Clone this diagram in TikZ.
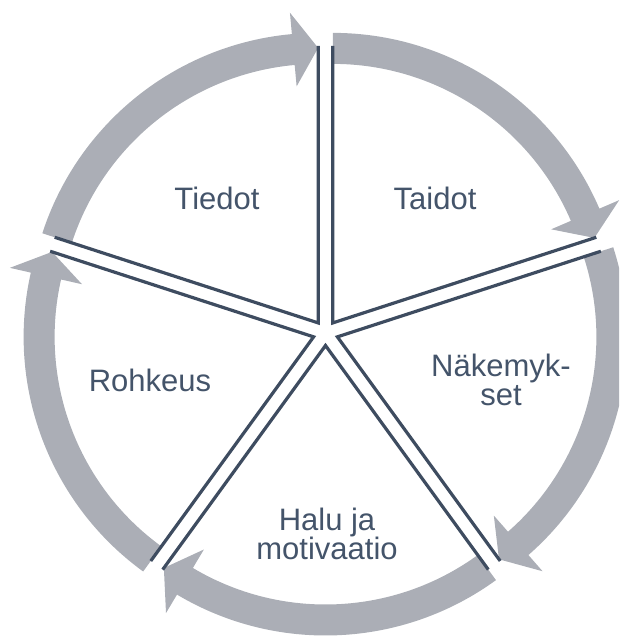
\documentclass[tikz,border=0pt]{standalone}
\usepackage{fontspec}
\setmainfont{Liberation Sans}
\definecolor{bandgrey}{HTML}{ABAEB6}
\definecolor{wedgeline}{HTML}{3E4C60}
\definecolor{labeltext}{HTML}{44546A}
\tikzset{
  band/.style={fill=bandgrey},
  wedge/.style={draw=wedgeline,line width=3.2pt,line join=miter,line cap=butt},
  lbl/.style={text=labeltext,inner sep=0pt,align=center,font=\fontsize{31pt}{29pt}\selectfont}
}
\begin{document}
\begin{tikzpicture}[x=1pt,y=1pt]
\useasboundingbox (-325.5pt,-303pt) rectangle (293.5pt,333pt);
\clip (-325.5pt,-303pt) rectangle (293.5pt,333pt);
\foreach \p in {54,-18,-90,-162,126}{
  \begin{scope}[shift={(\p:12.5pt)}]
    \fill[band] (\p+36:290pt) arc[start angle=\p+36, end angle=\p-36+5.2, radius=290pt]
      -- (\p-36+5.2:311.5pt) -- (\p-36:275pt) -- (\p-36+5.2:237.5pt)
      -- (\p-36+5.2:259pt) arc[start angle=\p-36+5.2, end angle=\p+36, radius=259pt] -- cycle;
  \end{scope}
}
\foreach \p in {54,-18,-90,-162,126}{
  \begin{scope}[shift={(\p:12.5pt)}]
    \draw[wedge] (\p+36:277pt) -- (0,0) -- (\p-36:277pt);
  \end{scope}
}
\node[lbl,anchor=base] (tiedot) at (-108.5pt,123pt) {Tiedot};
\node[lbl,anchor=base] (taidot) at (109.5pt,123pt) {Taidot};
\node[lbl,anchor=base] (rohkeus) at (-175.5pt,-59pt) {Rohkeus};
\node[lbl,anchor=base] (nakemykset) at (175.5pt,-73pt) {Näkemyk-\\set};
\node[lbl,anchor=base] (halu) at (1.5pt,-226pt) {Halu ja\\motivaatio};
\end{tikzpicture}
\end{document}
